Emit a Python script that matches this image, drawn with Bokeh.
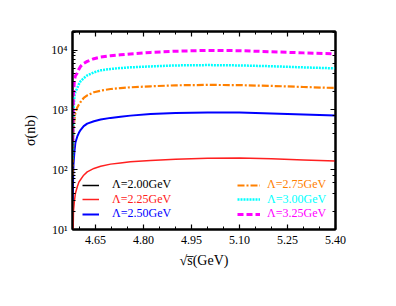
from bokeh.plotting import figure
from bokeh.models import (Range1d, FixedTicker, LinearAxis, LogAxis, Legend, LegendItem,
                          CustomJSTickFormatter, LogTicker, PrintfTickFormatter)
from bokeh.embed import file_html
from bokeh.resources import INLINE

# sqrt(s) in GeV
x = [4.5785, 4.581, 4.584, 4.587, 4.593, 4.598, 4.603, 4.613, 4.624, 4.645, 4.666,
     4.697, 4.728, 4.759, 4.822, 4.90, 5.00, 5.10, 5.20, 5.30, 5.40]

# sigma (nb) for each cutoff Lambda
sig_200 = [0.3, 1.0, 1.5, 2.0, 2.5, 2.9, 3.2, 3.7, 4.1, 4.6, 5.0,
           5.4, 5.7, 5.9, 6.2, 6.4, 6.6, 6.6, 6.4, 6.2, 6.0]
sig_225 = [3, 20, 30, 40, 52, 62, 68, 81, 92, 105, 114,
           124, 130, 136, 143, 150, 155, 157, 152, 146, 140]
sig_250 = [30, 120, 200, 282, 360, 414, 460, 535, 590, 647, 690,
           736, 770, 803, 857, 885, 905, 905, 870, 835, 803]
sig_275 = [80, 450, 700, 891, 1100, 1230, 1350, 1585, 1750, 1972, 2100,
           2239, 2320, 2390, 2485, 2580, 2620, 2600, 2520, 2420, 2325]
sig_300 = [150, 900, 1690, 2000, 2325, 2700, 3006, 3400, 3785, 4250, 4590,
           4850, 5012, 5150, 5346, 5550, 5623, 5550, 5380, 5150, 4955]
sig_325 = [300, 1800, 3200, 3700, 4140, 4800, 5346, 6000, 6486, 7200, 7640,
           8050, 8350, 8650, 9160, 9600, 9890, 9800, 9400, 9000, 8670]

labels = ["Λ=2.00GeV", "Λ=2.25GeV", "Λ=2.50GeV", "Λ=2.75GeV", "Λ=3.00GeV", "Λ=3.25GeV"]
colors = ["#000000", "#ff2020", "#0000ff", "#ff8000", "#00ffff", "#ff00ff"]

x_major = [4.65, 4.80, 4.95, 5.10, 5.25, 5.40]
x_minor = [4.60, 4.70, 4.75, 4.85, 4.90, 5.00, 5.05, 5.15, 5.20, 5.30, 5.35]

FONT = "Liberation Serif"

p = figure(width=380, height=290, output_backend="svg", toolbar_location=None,
           y_axis_type="log", x_range=Range1d(4.578, 5.40), y_range=Range1d(10, 2.05e4),
           min_border_left=72, min_border_right=45, min_border_top=31, min_border_bottom=61)
p.grid.visible = False
p.background_fill_color = "white"
p.outline_line_color = "black"
p.outline_line_width = 2

series = [sig_200, sig_225, sig_250, sig_275, sig_300, sig_325]
widths = [1.5, 1.5, 2.0, 2.2, 2.5, 3.0]
dashes = ["solid", "solid", "solid", "7 2 2 2", "2 1", "6 3"]
renderers = []
for s, c, w, d in zip(series, colors, widths, dashes):
    r = p.line(x, s, line_color=c, line_width=w, line_dash=d)
    renderers.append(r)

sup = {10: "10¹", 100: "10²", 1000: "10³", 10000: "10⁴"}

def style_axis(ax):
    ax.axis_line_width = 2
    ax.axis_line_color = "black"
    ax.major_tick_in = 5
    ax.major_tick_out = 0
    ax.minor_tick_in = 3
    ax.minor_tick_out = 0
    ax.major_tick_line_width = 1.2
    ax.major_tick_line_color = "black"
    ax.minor_tick_line_color = "black"
    ax.major_label_text_font = FONT
    ax.major_label_text_font_size = "12px"
    ax.major_label_text_color = "black"
    ax.axis_label_text_font = FONT
    ax.axis_label_text_font_style = "normal"
    ax.axis_label_text_font_size = "14px"
    ax.axis_label_text_color = "black"

xt = FixedTicker(ticks=x_major, minor_ticks=x_minor)
p.xaxis.ticker = xt
p.xaxis.formatter = PrintfTickFormatter(format="%.2f")
p.xaxis.axis_label = "√s̅(GeV)"
p.xaxis.major_label_standoff = 6
p.xaxis.axis_label_standoff = 6
style_axis(p.xaxis[0])

p.yaxis.major_label_overrides = sup
p.yaxis.axis_label = "σ(nb)"
p.yaxis.major_label_standoff = 5
p.yaxis.axis_label_standoff = 10
style_axis(p.yaxis[0])

blank = CustomJSTickFormatter(code="return ''")
top = LinearAxis(ticker=FixedTicker(ticks=x_major, minor_ticks=x_minor), formatter=blank)
style_axis(top)
top.major_label_text_font_size = "0px"
p.add_layout(top, "above")
right = LogAxis(ticker=LogTicker(), formatter=blank)
style_axis(right)
right.major_label_text_font_size = "0px"
p.add_layout(right, "right")

# legends: one per entry so each label keeps its own colour
rows_y = [37, 22.5, 8]
for i, (lab, c, r) in enumerate(zip(labels, colors, renderers)):
    col = i // 3
    row = i % 3
    lx = 10 if col == 0 else 165
    gw = 17 if col == 0 else 23
    so = 13 if col == 0 else 7
    lg = Legend(items=[LegendItem(label=lab, renderers=[r])],
                location=(lx, rows_y[row]), padding=0, margin=0,
                glyph_width=gw, glyph_height=14, label_height=14,
                label_standoff=so, border_line_alpha=0, background_fill_alpha=0,
                label_text_font=FONT, label_text_font_size="12px", label_text_color=c)
    p.add_layout(lg, "center")

open("out.html", "w").write(file_html(p, INLINE))
